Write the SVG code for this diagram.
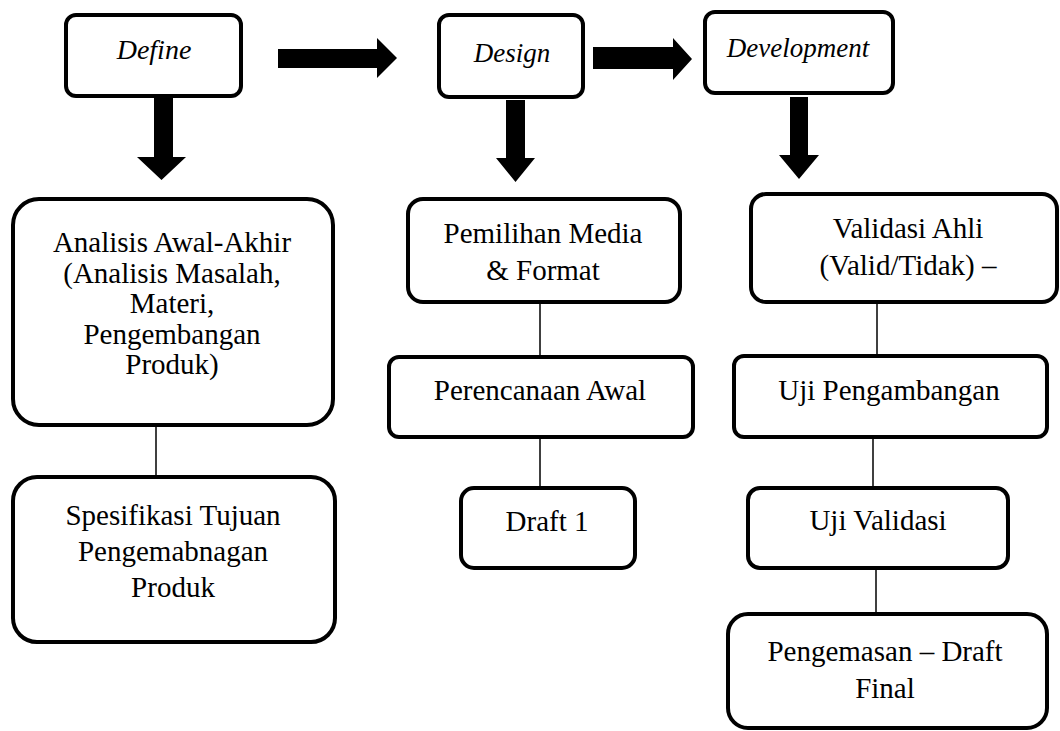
<svg xmlns="http://www.w3.org/2000/svg" width="1060" height="731" viewBox="0 0 1060 731">
<style>
.box{fill:#fff;stroke:#000;stroke-width:4}
.t{font-family:'Liberation Serif','DejaVu Serif',serif;font-size:29px;fill:#000;text-anchor:middle}
.ti{font-family:'Liberation Serif','DejaVu Serif',serif;font-size:27px;font-style:italic;fill:#000;text-anchor:middle}
.ln{stroke:#000;stroke-width:1.5;fill:none}
.ar{fill:#000;stroke:none}
</style>
<rect width="1060" height="731" fill="#fff"/>
<g id="connectors">
<polygon class="ar" points="278,49 377,49 377,38 397,58 377,78 377,68 278,68"/>
<polygon class="ar" points="593,47 673,47 673,38 692,59 673,80 673,69 593,69"/>
<polygon class="ar" points="154,97 173,97 173,157 186,157 161.5,180 137,157 154,157"/>
<polygon class="ar" points="506,100 525,100 525,158 535,158 515.5,182 496,158 506,158"/>
<polygon class="ar" points="790,97 808,97 808,155 819,155 799,179 779,155 790,155"/>
<line class="ln" x1="156" y1="425" x2="156" y2="476"/>
<line class="ln" x1="540" y1="302" x2="540" y2="356"/>
<line class="ln" x1="540" y1="437" x2="540" y2="487"/>
<line class="ln" x1="877" y1="302" x2="877" y2="355"/>
<line class="ln" x1="873" y1="437" x2="873" y2="487"/>
<line class="ln" x1="876" y1="568" x2="876" y2="613"/>
</g>
<g id="define">
<rect class="box" x="66" y="15" width="175" height="81" rx="10"/>
<text class="ti" x="154" y="59" font-family="Liberation Serif" style="font-size:28px">Define</text>
</g>
<g id="design">
<rect class="box" x="439" y="15" width="144" height="82" rx="10"/>
<text class="ti" x="512" y="62">Design</text>
</g>
<g id="development">
<rect class="box" x="705" y="12" width="188" height="81" rx="10"/>
<text class="ti" x="798" y="57">Development</text>
</g>
<g id="analisis">
<rect class="box" x="13" y="199" width="320" height="226" rx="26"/>
<text class="t" x="172" y="252">Analisis Awal-Akhir</text>
<text class="t" x="172" y="283">(Analisis Masalah,</text>
<text class="t" x="172" y="313">Materi,</text>
<text class="t" x="172" y="344">Pengembangan</text>
<text class="t" x="172" y="374">Produk)</text>
</g>
<g id="spesifikasi">
<rect class="box" x="13" y="477" width="322" height="165" rx="24"/>
<text class="t" x="173" y="525">Spesifikasi Tujuan</text>
<text class="t" x="173" y="561">Pengemabnagan</text>
<text class="t" x="173" y="597">Produk</text>
</g>
<g id="pemilihan">
<rect class="box" x="408" y="199" width="272" height="103" rx="15"/>
<text class="t" x="543" y="243">Pemilihan Media</text>
<text class="t" x="543" y="280">&amp; Format</text>
</g>
<g id="perencanaan">
<rect class="box" x="389" y="357" width="304" height="80" rx="10"/>
<text class="t" x="540" y="400">Perencanaan Awal</text>
</g>
<g id="draft1">
<rect class="box" x="461" y="488" width="174" height="80" rx="13"/>
<text class="t" x="547" y="531">Draft 1</text>
</g>
<g id="validasi">
<rect class="box" x="751" y="194" width="306" height="108" rx="15"/>
<text class="t" x="908" y="238">Validasi Ahli</text>
<text class="t" x="908" y="275">(Valid/Tidak) –</text>
</g>
<g id="uji-pengambangan">
<rect class="box" x="734" y="356" width="313" height="81" rx="10"/>
<text class="t" x="889" y="400">Uji Pengambangan</text>
</g>
<g id="uji-validasi">
<rect class="box" x="748" y="488" width="260" height="80" rx="12"/>
<text class="t" x="878" y="530">Uji Validasi</text>
</g>
<g id="pengemasan">
<rect class="box" x="728" y="614" width="319" height="114" rx="20"/>
<text class="t" x="885" y="661">Pengemasan – Draft</text>
<text class="t" x="885" y="698">Final</text>
</g>
</svg>
